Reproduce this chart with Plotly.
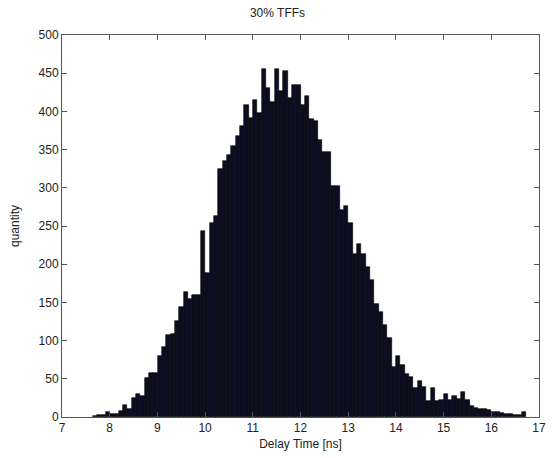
import numpy as np
import plotly.graph_objects as go

title = "30% TFFs"
x_label = "Delay Time [ns]"
y_label = "quantity"

# histogram range (min/max of the delay data) and bin counts (100 bins)
data_min = 7.64
data_max = 16.73
counts = [
    1, 2, 2, 6, 4, 4, 8, 16, 10, 25,
    30, 28, 51, 57, 57, 80, 91, 107, 108, 126,
    144, 163, 155, 160, 160, 243, 189, 254, 263, 325,
    335, 343, 355, 368, 381, 409, 392, 415, 398, 455,
    430, 412, 456, 427, 453, 418, 435, 435, 408, 420,
    390, 388, 362, 347, 347, 302, 303, 271, 276, 254,
    213, 227, 213, 196, 179, 148, 138, 120, 103, 66,
    80, 68, 56, 53, 38, 47, 39, 21, 38, 21,
    22, 30, 22, 27, 23, 33, 22, 14, 12, 11,
    10, 9, 7, 6, 5, 4, 4, 3, 2, 6,
]
x_ticks = [7, 8, 9, 10, 11, 12, 13, 14, 15, 16, 17]
y_ticks = [0, 50, 100, 150, 200, 250, 300, 350, 400, 450, 500]

n = len(counts)
edges = np.linspace(data_min, data_max, n + 1)
centers = (edges[:-1] + edges[1:]) / 2
width = edges[1] - edges[0]

fig = go.Figure(go.Bar(
    x=centers, y=counts, width=width,
    marker=dict(color="#0d0d22", line=dict(color="#000000", width=0.6)),
))

font = dict(family="Liberation Sans, Arial, sans-serif", size=12, color="#222222")
axis_common = dict(
    showline=True, linecolor="#555555", linewidth=1, mirror="ticks",
    ticks="inside", ticklen=5, tickcolor="#555555",
    showgrid=False, zeroline=False, tickfont=font,
)
fig.update_layout(
    width=555, height=458,
    margin=dict(l=62, r=9, t=35, b=35),
    paper_bgcolor="white", plot_bgcolor="white",
    showlegend=False, bargap=0,
    title=dict(text=title, x=0.5, xanchor="center", y=0.972, yanchor="middle",
               font=dict(family=font["family"], size=12, color="#222222")),
    xaxis=dict(range=[7, 17], tickvals=x_ticks, ticktext=[str(v) for v in x_ticks],
               title=dict(text=x_label, font=font, standoff=5), **axis_common),
    yaxis=dict(range=[0, 500], tickvals=y_ticks, ticktext=[str(v) for v in y_ticks],
               title=dict(text=y_label, font=font, standoff=16), **axis_common),
)

fig.write_html("out.html")
